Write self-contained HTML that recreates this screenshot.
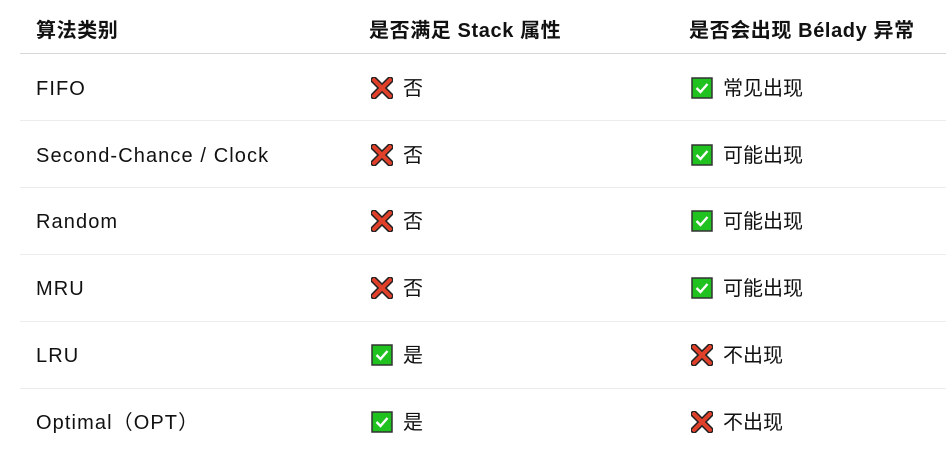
<!DOCTYPE html>
<html><head><meta charset="utf-8"><style>
body{margin:0;width:946px;height:466px;background:#fff;overflow:hidden;font-family:"Liberation Sans","Noto Sans CJK SC",sans-serif;color:#111;}
.r{position:absolute;left:20px;width:926px;border-bottom:1px solid #ececec;}
.h{border-bottom:1px solid #d6d6d6;}
.t{position:absolute;font-size:20px;line-height:24px;white-space:nowrap;top:1px}
.l{letter-spacing:1.1px}
.b{font-weight:bold;letter-spacing:0.6px}
svg{position:absolute;}
</style></head><body>
<div class="r h" style="top:0;height:53px"></div>
<div class="r" style="top:54px;height:66px"></div>
<div class="r" style="top:121px;height:66px"></div>
<div class="r" style="top:188px;height:66px"></div>
<div class="r" style="top:255px;height:66px"></div>
<div class="r" style="top:322px;height:66px"></div>
<div class="t b" style="left:36px;top:19px">算法类别</div>
<div class="t b" style="left:369px;top:19px">是否满足 Stack 属性</div>
<div class="t b" style="left:689px;top:19px">是否会出现 Bélady 异常</div>
<svg width="0" height="0"><defs>
<g id="x"><path d="M3 3 L19 19 M19 3 L3 19" stroke="#222" stroke-width="7" stroke-linecap="round"/><path d="M3 3 L19 19 M19 3 L3 19" stroke="#e0402a" stroke-width="4" stroke-linecap="round"/></g>
<g id="c"><rect x="1" y="1" width="20" height="20" fill="#1fc21f" stroke="#333" stroke-width="1.5"/><path d="M5.5 11 L9.5 15 L16.5 7" stroke="#fff" stroke-width="2.4" fill="none"/></g>
</defs></svg>
<div class="t l" style="left:36px;top:77px">FIFO</div>
<div class="t l" style="left:36px;top:144px">Second-Chance / Clock</div>
<div class="t l" style="left:36px;top:210px">Random</div>
<div class="t l" style="left:36px;top:277px">MRU</div>
<div class="t l" style="left:36px;top:344px">LRU</div>
<div class="t l" style="left:36px;top:411px">Optimal（OPT）</div>
<svg style="left:371px;top:77px" width="22" height="22"><use href="#x"/></svg><div class="t" style="left:403px;top:77px">否</div>
<svg style="left:371px;top:144px" width="22" height="22"><use href="#x"/></svg><div class="t" style="left:403px;top:144px">否</div>
<svg style="left:371px;top:210px" width="22" height="22"><use href="#x"/></svg><div class="t" style="left:403px;top:210px">否</div>
<svg style="left:371px;top:277px" width="22" height="22"><use href="#x"/></svg><div class="t" style="left:403px;top:277px">否</div>
<svg style="left:371px;top:344px" width="22" height="22"><use href="#c"/></svg><div class="t" style="left:403px;top:344px">是</div>
<svg style="left:371px;top:411px" width="22" height="22"><use href="#c"/></svg><div class="t" style="left:403px;top:411px">是</div>
<svg style="left:691px;top:77px" width="22" height="22"><use href="#c"/></svg><div class="t" style="left:723px;top:77px">常见出现</div>
<svg style="left:691px;top:144px" width="22" height="22"><use href="#c"/></svg><div class="t" style="left:723px;top:144px">可能出现</div>
<svg style="left:691px;top:210px" width="22" height="22"><use href="#c"/></svg><div class="t" style="left:723px;top:210px">可能出现</div>
<svg style="left:691px;top:277px" width="22" height="22"><use href="#c"/></svg><div class="t" style="left:723px;top:277px">可能出现</div>
<svg style="left:691px;top:344px" width="22" height="22"><use href="#x"/></svg><div class="t" style="left:723px;top:344px">不出现</div>
<svg style="left:691px;top:411px" width="22" height="22"><use href="#x"/></svg><div class="t" style="left:723px;top:411px">不出现</div>
</body></html>
